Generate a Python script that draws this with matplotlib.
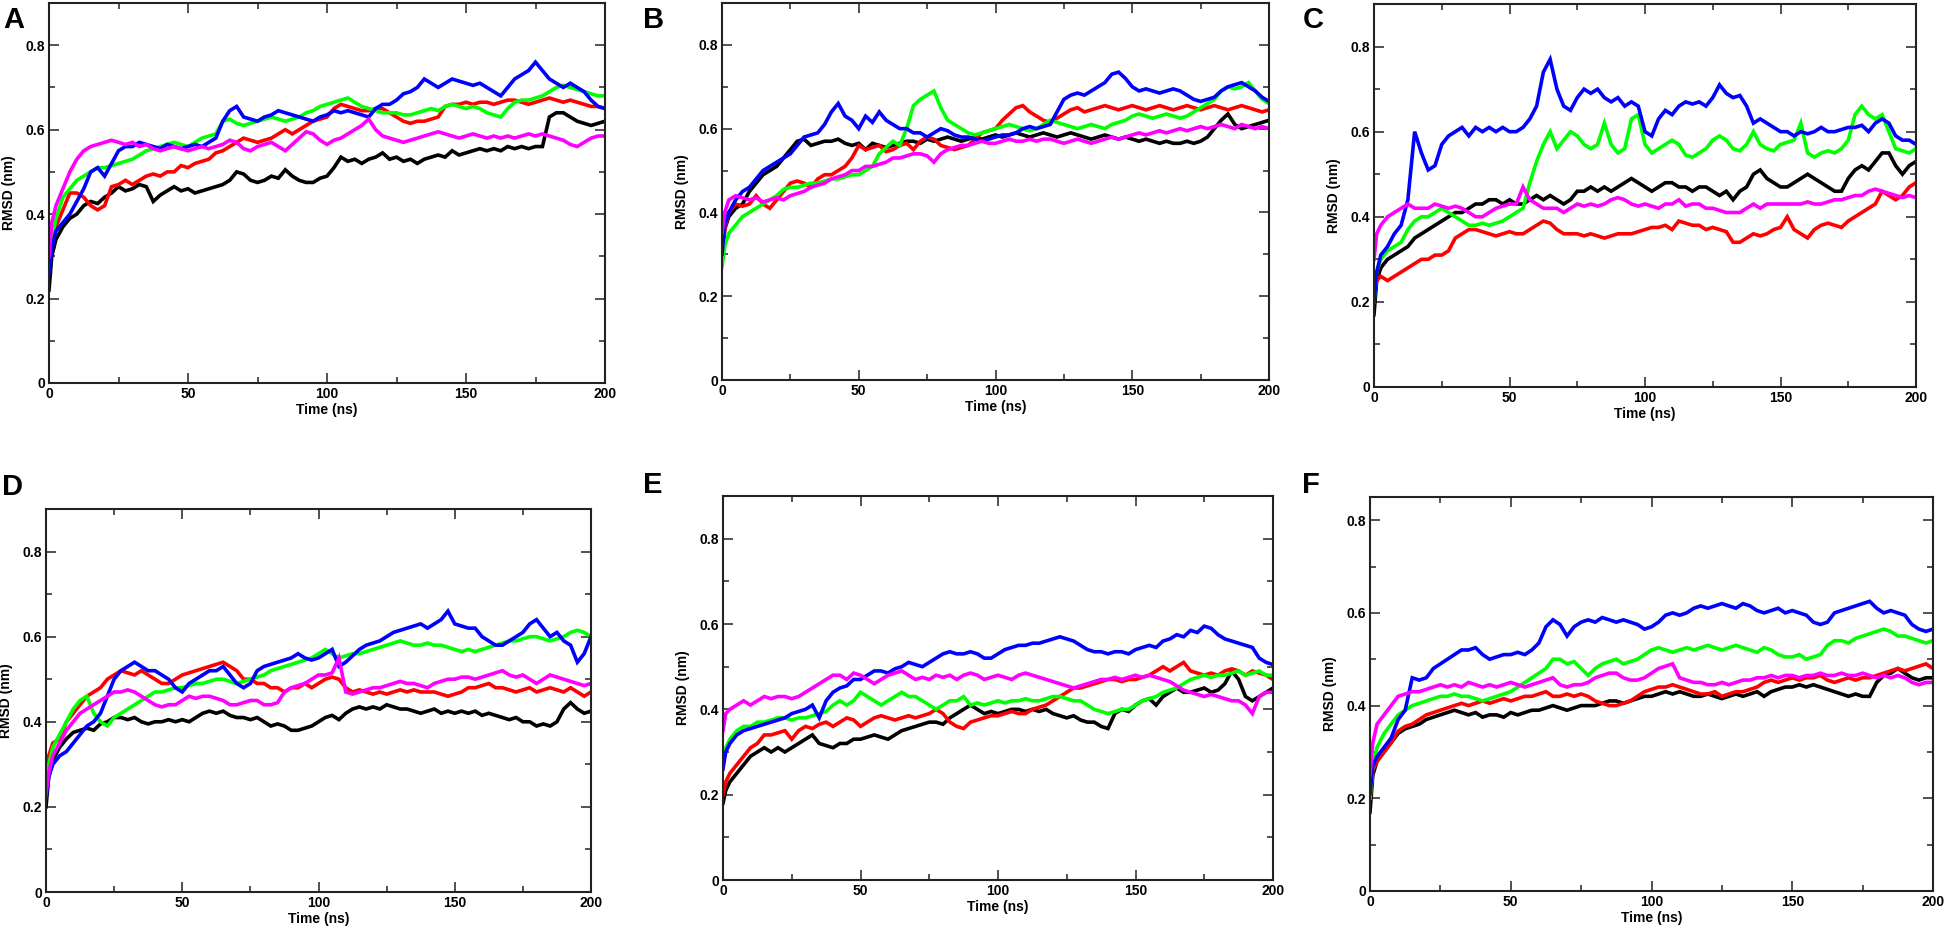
import numpy as np
import matplotlib
matplotlib.use("Agg")
import matplotlib.pyplot as plt
from matplotlib.ticker import MultipleLocator, FuncFormatter

plt.rcParams['font.family'] = ['Liberation Sans', 'DejaVu Sans']
plt.rcParams['font.weight'] = 'bold'

# time grid (ns)
time_ns = np.concatenate([[0.0, 1.0], np.arange(2.5, 200.01, 2.5)])

series_names = ["black", "red", "green", "blue", "magenta"]
series_colors = ["#000000", "#ff0000", "#00ff00", "#0000ff", "#ff00ff"]
panel_letters = ["A", "B", "C", "D", "E", "F"]

# ---------------- Panel A ----------------
A_black = [0.22, 0.30, 0.34, 0.37, 0.39, 0.40, 0.42, 0.43, 0.425, 0.44,
           0.45, 0.465, 0.455, 0.46, 0.47, 0.465, 0.43, 0.445,
           0.455, 0.465, 0.455, 0.46, 0.45, 0.455, 0.46, 0.465,
           0.47, 0.48, 0.50, 0.495, 0.48, 0.475, 0.48, 0.49,
           0.485, 0.505, 0.49, 0.48, 0.475, 0.475, 0.485, 0.49,
           0.51, 0.535, 0.525, 0.53, 0.52, 0.53, 0.535, 0.545,
           0.53, 0.535, 0.525, 0.53, 0.52, 0.53, 0.535, 0.54,
           0.535, 0.55, 0.54, 0.545, 0.55, 0.555, 0.55, 0.555,
           0.55, 0.56, 0.555, 0.56, 0.555, 0.56, 0.56, 0.63,
           0.64, 0.64, 0.63, 0.62, 0.615, 0.61, 0.615, 0.62]
A_red = [0.28, 0.33, 0.37, 0.41, 0.45, 0.45, 0.44, 0.42, 0.41, 0.42,
         0.465, 0.47, 0.48, 0.47, 0.48, 0.49, 0.495, 0.49,
         0.50, 0.50, 0.515, 0.51, 0.52, 0.525, 0.53, 0.545,
         0.55, 0.56, 0.57, 0.58, 0.575, 0.57, 0.575, 0.58,
         0.59, 0.60, 0.59, 0.60, 0.61, 0.62, 0.625, 0.63,
         0.65, 0.66, 0.655, 0.65, 0.645, 0.645, 0.65, 0.65,
         0.64, 0.63, 0.62, 0.615, 0.62, 0.62, 0.625, 0.63,
         0.655, 0.66, 0.66, 0.665, 0.66, 0.665, 0.665, 0.66,
         0.665, 0.67, 0.67, 0.665, 0.66, 0.665, 0.67, 0.675,
         0.67, 0.665, 0.67, 0.665, 0.66, 0.655, 0.655, 0.65]
A_green = [0.28, 0.34, 0.39, 0.44, 0.46, 0.48, 0.49, 0.50, 0.51, 0.51,
           0.515, 0.52, 0.525, 0.53, 0.54, 0.55, 0.555, 0.56,
           0.565, 0.57, 0.565, 0.56, 0.57, 0.58, 0.585, 0.59,
           0.62, 0.625, 0.615, 0.61, 0.615, 0.62, 0.625, 0.63,
           0.625, 0.62, 0.625, 0.63, 0.64, 0.645, 0.655, 0.66,
           0.665, 0.67, 0.675, 0.665, 0.655, 0.65, 0.645, 0.64,
           0.64, 0.64, 0.635, 0.635, 0.64, 0.645, 0.65, 0.645,
           0.655, 0.66, 0.655, 0.65, 0.655, 0.65, 0.64, 0.635,
           0.63, 0.65, 0.665, 0.67, 0.67, 0.675, 0.68, 0.69,
           0.70, 0.705, 0.70, 0.695, 0.69, 0.685, 0.68, 0.68]
A_blue = [0.26, 0.32, 0.36, 0.38, 0.40, 0.43, 0.46, 0.50, 0.51, 0.49,
          0.52, 0.55, 0.56, 0.56, 0.57, 0.565, 0.56, 0.555,
          0.565, 0.56, 0.555, 0.56, 0.565, 0.56, 0.57, 0.58,
          0.62, 0.645, 0.655, 0.63, 0.625, 0.62, 0.63, 0.635,
          0.645, 0.64, 0.635, 0.63, 0.625, 0.62, 0.63, 0.635,
          0.645, 0.64, 0.645, 0.64, 0.635, 0.63, 0.65, 0.66,
          0.66, 0.67, 0.685, 0.69, 0.70, 0.72, 0.71, 0.70,
          0.71, 0.72, 0.715, 0.71, 0.705, 0.71, 0.70, 0.69,
          0.68, 0.70, 0.72, 0.73, 0.74, 0.76, 0.74, 0.72,
          0.71, 0.70, 0.71, 0.70, 0.69, 0.67, 0.655, 0.65]
A_magenta = [0.30, 0.38, 0.42, 0.46, 0.50, 0.53, 0.55, 0.56, 0.565, 0.57,
             0.575, 0.57, 0.565, 0.57, 0.56, 0.565, 0.555, 0.55,
             0.555, 0.56, 0.555, 0.55, 0.555, 0.56, 0.555, 0.56,
             0.565, 0.575, 0.57, 0.555, 0.55, 0.56, 0.565, 0.57,
             0.56, 0.55, 0.565, 0.58, 0.595, 0.59, 0.575, 0.565,
             0.575, 0.58, 0.59, 0.60, 0.61, 0.625, 0.60, 0.585,
             0.58, 0.575, 0.57, 0.575, 0.58, 0.585, 0.59, 0.595,
             0.59, 0.585, 0.58, 0.585, 0.59, 0.585, 0.58, 0.585,
             0.58, 0.585, 0.58, 0.585, 0.59, 0.585, 0.59, 0.585,
             0.58, 0.575, 0.565, 0.56, 0.57, 0.58, 0.585, 0.585]

# ---------------- Panel B ----------------
B_black = [0.28, 0.36, 0.39, 0.41, 0.42, 0.45, 0.47, 0.49, 0.50, 0.51,
           0.53, 0.55, 0.57, 0.575, 0.56, 0.565, 0.57, 0.57,
           0.575, 0.565, 0.56, 0.565, 0.55, 0.565, 0.56, 0.555,
           0.56, 0.565, 0.57, 0.57, 0.565, 0.575, 0.57, 0.575,
           0.58, 0.575, 0.57, 0.575, 0.58, 0.575, 0.58, 0.585,
           0.58, 0.585, 0.59, 0.585, 0.58, 0.585, 0.59, 0.585,
           0.58, 0.585, 0.59, 0.585, 0.58, 0.575, 0.58, 0.585,
           0.58, 0.575, 0.58, 0.575, 0.57, 0.575, 0.57, 0.565,
           0.57, 0.565, 0.565, 0.57, 0.565, 0.57, 0.58, 0.60,
           0.62, 0.635, 0.61, 0.60, 0.605, 0.61, 0.615, 0.62]
B_red = [0.30, 0.36, 0.40, 0.42, 0.415, 0.42, 0.44, 0.42, 0.41, 0.43,
         0.45, 0.47, 0.475, 0.47, 0.46, 0.48, 0.49, 0.49,
         0.50, 0.51, 0.53, 0.56, 0.55, 0.555, 0.56, 0.545,
         0.55, 0.56, 0.565, 0.55, 0.57, 0.58, 0.575, 0.56,
         0.555, 0.55, 0.555, 0.56, 0.575, 0.59, 0.595, 0.60,
         0.62, 0.635, 0.65, 0.655, 0.64, 0.63, 0.62, 0.615,
         0.625, 0.635, 0.645, 0.65, 0.64, 0.645, 0.65, 0.655,
         0.65, 0.645, 0.65, 0.655, 0.65, 0.645, 0.65, 0.655,
         0.65, 0.645, 0.65, 0.655, 0.65, 0.645, 0.65, 0.655,
         0.65, 0.645, 0.65, 0.655, 0.65, 0.645, 0.64, 0.645]
B_green = [0.27, 0.32, 0.35, 0.37, 0.39, 0.40, 0.41, 0.42, 0.43, 0.44,
           0.455, 0.46, 0.46, 0.465, 0.47, 0.47, 0.475, 0.48,
           0.48, 0.485, 0.49, 0.49, 0.50, 0.51, 0.54, 0.555,
           0.57, 0.56, 0.60, 0.655, 0.67, 0.68, 0.69, 0.65,
           0.62, 0.61, 0.60, 0.59, 0.585, 0.59, 0.595, 0.60,
           0.605, 0.61, 0.605, 0.60, 0.595, 0.60, 0.61, 0.62,
           0.615, 0.61, 0.605, 0.60, 0.605, 0.61, 0.605, 0.60,
           0.61, 0.615, 0.62, 0.63, 0.635, 0.63, 0.625, 0.63,
           0.635, 0.63, 0.625, 0.63, 0.64, 0.65, 0.66, 0.67,
           0.69, 0.70, 0.695, 0.70, 0.71, 0.69, 0.67, 0.66]
B_blue = [0.30, 0.37, 0.40, 0.43, 0.45, 0.46, 0.48, 0.50, 0.51, 0.52,
          0.53, 0.54, 0.56, 0.58, 0.585, 0.59, 0.61, 0.64,
          0.66, 0.63, 0.62, 0.60, 0.63, 0.615, 0.64, 0.62,
          0.61, 0.60, 0.60, 0.59, 0.59, 0.58, 0.59, 0.60,
          0.595, 0.585, 0.58, 0.58, 0.575, 0.57, 0.575, 0.58,
          0.585, 0.585, 0.59, 0.60, 0.605, 0.60, 0.605, 0.61,
          0.64, 0.67, 0.68, 0.685, 0.68, 0.69, 0.70, 0.71,
          0.73, 0.735, 0.72, 0.70, 0.69, 0.695, 0.69, 0.685,
          0.69, 0.695, 0.69, 0.68, 0.67, 0.665, 0.67, 0.675,
          0.69, 0.70, 0.705, 0.71, 0.70, 0.69, 0.675, 0.665]
B_magenta = [0.35, 0.40, 0.43, 0.44, 0.435, 0.43, 0.435, 0.425, 0.43, 0.435,
             0.43, 0.44, 0.445, 0.45, 0.46, 0.465, 0.47, 0.48,
             0.485, 0.49, 0.50, 0.50, 0.51, 0.51, 0.515, 0.52,
             0.53, 0.53, 0.535, 0.54, 0.54, 0.535, 0.52, 0.54,
             0.55, 0.555, 0.56, 0.56, 0.565, 0.57, 0.565, 0.565,
             0.57, 0.575, 0.57, 0.57, 0.575, 0.57, 0.575, 0.575,
             0.57, 0.565, 0.57, 0.575, 0.57, 0.565, 0.57, 0.575,
             0.58, 0.575, 0.58, 0.585, 0.59, 0.585, 0.59, 0.595,
             0.59, 0.595, 0.60, 0.595, 0.60, 0.605, 0.60, 0.605,
             0.61, 0.605, 0.60, 0.61, 0.605, 0.60, 0.605, 0.60]

# ---------------- Panel C ----------------
C_black = [0.17, 0.25, 0.28, 0.30, 0.31, 0.32, 0.33, 0.35, 0.36, 0.37,
           0.38, 0.39, 0.40, 0.41, 0.41, 0.42, 0.43, 0.43,
           0.44, 0.44, 0.43, 0.44, 0.43, 0.43, 0.44, 0.45,
           0.44, 0.45, 0.44, 0.43, 0.44, 0.46, 0.46, 0.47,
           0.46, 0.47, 0.46, 0.47, 0.48, 0.49, 0.48, 0.47,
           0.46, 0.47, 0.48, 0.48, 0.47, 0.47, 0.46, 0.47,
           0.47, 0.46, 0.45, 0.46, 0.44, 0.46, 0.47, 0.50,
           0.51, 0.49, 0.48, 0.47, 0.47, 0.48, 0.49, 0.50,
           0.49, 0.48, 0.47, 0.46, 0.46, 0.49, 0.51, 0.52,
           0.51, 0.53, 0.55, 0.55, 0.52, 0.50, 0.52, 0.53]
C_red = [0.22, 0.25, 0.26, 0.25, 0.26, 0.27, 0.28, 0.29, 0.30, 0.30,
         0.31, 0.31, 0.32, 0.35, 0.36, 0.37, 0.37, 0.365,
         0.36, 0.355, 0.36, 0.365, 0.36, 0.36, 0.37, 0.38,
         0.39, 0.385, 0.37, 0.36, 0.36, 0.36, 0.355, 0.36,
         0.355, 0.35, 0.355, 0.36, 0.36, 0.36, 0.365, 0.37,
         0.375, 0.375, 0.38, 0.37, 0.39, 0.385, 0.38, 0.38,
         0.37, 0.375, 0.37, 0.365, 0.34, 0.34, 0.35, 0.36,
         0.355, 0.36, 0.37, 0.375, 0.40, 0.37, 0.36, 0.35,
         0.37, 0.38, 0.385, 0.38, 0.375, 0.39, 0.40, 0.41,
         0.42, 0.43, 0.46, 0.45, 0.44, 0.45, 0.47, 0.48]
C_green = [0.20, 0.27, 0.30, 0.32, 0.33, 0.34, 0.37, 0.39, 0.40, 0.40,
           0.41, 0.42, 0.41, 0.40, 0.39, 0.38, 0.38, 0.385,
           0.38, 0.385, 0.39, 0.40, 0.41, 0.42, 0.48, 0.53,
           0.57, 0.60, 0.56, 0.58, 0.60, 0.59, 0.57, 0.56,
           0.57, 0.62, 0.57, 0.55, 0.56, 0.63, 0.64, 0.57,
           0.55, 0.56, 0.57, 0.58, 0.57, 0.545, 0.54, 0.55,
           0.56, 0.58, 0.59, 0.58, 0.56, 0.555, 0.57, 0.60,
           0.57, 0.56, 0.555, 0.57, 0.575, 0.58, 0.62, 0.55,
           0.54, 0.55, 0.555, 0.55, 0.56, 0.58, 0.64, 0.66,
           0.64, 0.63, 0.64, 0.60, 0.56, 0.555, 0.55, 0.56]
C_blue = [0.20, 0.27, 0.31, 0.33, 0.36, 0.38, 0.44, 0.60, 0.55, 0.51,
          0.52, 0.57, 0.59, 0.60, 0.61, 0.59, 0.61, 0.60,
          0.61, 0.60, 0.61, 0.60, 0.60, 0.61, 0.63, 0.66,
          0.74, 0.77, 0.70, 0.66, 0.65, 0.68, 0.70, 0.69,
          0.70, 0.68, 0.67, 0.68, 0.66, 0.67, 0.66, 0.60,
          0.59, 0.63, 0.65, 0.64, 0.66, 0.67, 0.665, 0.67,
          0.66, 0.68, 0.71, 0.69, 0.68, 0.685, 0.66, 0.62,
          0.63, 0.62, 0.61, 0.60, 0.60, 0.59, 0.60, 0.595,
          0.60, 0.61, 0.60, 0.60, 0.605, 0.61, 0.61, 0.615,
          0.60, 0.62, 0.63, 0.62, 0.59, 0.58, 0.58, 0.57]
C_magenta = [0.30, 0.36, 0.38, 0.40, 0.41, 0.42, 0.43, 0.42, 0.42, 0.42,
             0.43, 0.425, 0.42, 0.425, 0.42, 0.41, 0.40, 0.40,
             0.41, 0.42, 0.425, 0.43, 0.43, 0.47, 0.44, 0.43,
             0.42, 0.42, 0.42, 0.41, 0.42, 0.43, 0.425, 0.43,
             0.425, 0.43, 0.44, 0.445, 0.44, 0.43, 0.425, 0.43,
             0.425, 0.42, 0.43, 0.43, 0.44, 0.425, 0.43, 0.43,
             0.42, 0.42, 0.415, 0.41, 0.41, 0.41, 0.42, 0.43,
             0.42, 0.43, 0.43, 0.43, 0.43, 0.43, 0.43, 0.435,
             0.43, 0.43, 0.435, 0.44, 0.44, 0.445, 0.45, 0.45,
             0.46, 0.465, 0.46, 0.455, 0.45, 0.445, 0.45, 0.445]

# ---------------- Panel D ----------------
D_black = [0.20, 0.27, 0.31, 0.34, 0.36, 0.375, 0.38, 0.385, 0.38, 0.395,
           0.40, 0.41, 0.41, 0.405, 0.41, 0.40, 0.395, 0.40,
           0.40, 0.405, 0.40, 0.405, 0.40, 0.41, 0.42, 0.425,
           0.42, 0.425, 0.415, 0.41, 0.41, 0.405, 0.41, 0.40,
           0.39, 0.395, 0.39, 0.38, 0.38, 0.385, 0.39, 0.40,
           0.41, 0.415, 0.405, 0.42, 0.43, 0.435, 0.43, 0.435,
           0.43, 0.44, 0.435, 0.43, 0.43, 0.425, 0.42, 0.425,
           0.43, 0.42, 0.425, 0.42, 0.425, 0.42, 0.425, 0.415,
           0.42, 0.415, 0.41, 0.405, 0.41, 0.40, 0.40, 0.39,
           0.395, 0.39, 0.40, 0.43, 0.445, 0.43, 0.42, 0.425]
D_red = [0.25, 0.32, 0.35, 0.36, 0.40, 0.42, 0.44, 0.46, 0.47, 0.48,
         0.50, 0.51, 0.52, 0.515, 0.51, 0.52, 0.51, 0.50,
         0.49, 0.49, 0.50, 0.51, 0.515, 0.52, 0.525, 0.53,
         0.535, 0.54, 0.53, 0.52, 0.50, 0.50, 0.49, 0.49,
         0.48, 0.48, 0.47, 0.48, 0.48, 0.49, 0.48, 0.49,
         0.50, 0.505, 0.50, 0.48, 0.47, 0.475, 0.47, 0.465,
         0.47, 0.465, 0.47, 0.475, 0.47, 0.475, 0.47, 0.47,
         0.47, 0.465, 0.46, 0.465, 0.47, 0.48, 0.48, 0.485,
         0.49, 0.48, 0.48, 0.475, 0.47, 0.475, 0.48, 0.47,
         0.475, 0.48, 0.475, 0.47, 0.48, 0.47, 0.46, 0.47]
D_green = [0.25, 0.30, 0.34, 0.37, 0.40, 0.43, 0.45, 0.46, 0.42, 0.40,
           0.39, 0.41, 0.42, 0.43, 0.44, 0.45, 0.46, 0.47,
           0.47, 0.475, 0.48, 0.48, 0.485, 0.49, 0.49, 0.495,
           0.50, 0.50, 0.495, 0.49, 0.495, 0.50, 0.505, 0.51,
           0.52, 0.525, 0.53, 0.535, 0.54, 0.545, 0.55, 0.56,
           0.57, 0.56, 0.55, 0.555, 0.56, 0.56, 0.565, 0.57,
           0.575, 0.58, 0.585, 0.59, 0.585, 0.58, 0.58, 0.585,
           0.58, 0.58, 0.575, 0.57, 0.565, 0.57, 0.565, 0.57,
           0.575, 0.58, 0.585, 0.59, 0.59, 0.595, 0.60, 0.60,
           0.595, 0.59, 0.595, 0.60, 0.61, 0.615, 0.61, 0.60]
D_blue = [0.22, 0.27, 0.30, 0.32, 0.33, 0.35, 0.37, 0.39, 0.40, 0.42,
          0.46, 0.50, 0.52, 0.53, 0.54, 0.53, 0.52, 0.52,
          0.51, 0.50, 0.48, 0.47, 0.49, 0.50, 0.51, 0.52,
          0.52, 0.53, 0.51, 0.49, 0.48, 0.49, 0.52, 0.53,
          0.535, 0.54, 0.545, 0.55, 0.56, 0.55, 0.545, 0.55,
          0.56, 0.57, 0.53, 0.54, 0.555, 0.57, 0.58, 0.585,
          0.59, 0.60, 0.61, 0.615, 0.62, 0.625, 0.63, 0.62,
          0.63, 0.64, 0.66, 0.63, 0.625, 0.62, 0.62, 0.60,
          0.59, 0.58, 0.58, 0.59, 0.60, 0.61, 0.63, 0.64,
          0.62, 0.60, 0.61, 0.59, 0.58, 0.54, 0.56, 0.60]
D_magenta = [0.23, 0.28, 0.32, 0.35, 0.38, 0.40, 0.42, 0.43, 0.44, 0.45,
             0.46, 0.47, 0.47, 0.475, 0.47, 0.46, 0.45, 0.44,
             0.435, 0.44, 0.44, 0.45, 0.46, 0.455, 0.46, 0.46,
             0.455, 0.45, 0.44, 0.44, 0.445, 0.45, 0.45, 0.44,
             0.44, 0.445, 0.47, 0.48, 0.485, 0.49, 0.50, 0.51,
             0.51, 0.515, 0.55, 0.47, 0.465, 0.47, 0.475, 0.48,
             0.48, 0.485, 0.49, 0.495, 0.49, 0.49, 0.485, 0.48,
             0.49, 0.495, 0.50, 0.50, 0.505, 0.505, 0.50, 0.505,
             0.51, 0.515, 0.52, 0.51, 0.505, 0.51, 0.50, 0.49,
             0.50, 0.51, 0.505, 0.50, 0.495, 0.49, 0.485, 0.49]

# ---------------- Panel E ----------------
E_black = [0.18, 0.21, 0.23, 0.25, 0.27, 0.29, 0.30, 0.31, 0.30, 0.31,
           0.30, 0.31, 0.32, 0.33, 0.34, 0.32, 0.315, 0.31,
           0.32, 0.32, 0.33, 0.33, 0.335, 0.34, 0.335, 0.33,
           0.34, 0.35, 0.355, 0.36, 0.365, 0.37, 0.37, 0.365,
           0.38, 0.39, 0.40, 0.41, 0.40, 0.39, 0.395, 0.39,
           0.395, 0.40, 0.40, 0.395, 0.40, 0.395, 0.40, 0.39,
           0.385, 0.38, 0.385, 0.375, 0.37, 0.37, 0.36, 0.355,
           0.39, 0.40, 0.395, 0.41, 0.42, 0.425, 0.41, 0.43,
           0.44, 0.45, 0.44, 0.44, 0.445, 0.45, 0.44, 0.445,
           0.46, 0.49, 0.47, 0.43, 0.42, 0.43, 0.44, 0.45]
E_red = [0.20, 0.23, 0.25, 0.27, 0.29, 0.31, 0.32, 0.34, 0.34, 0.345,
         0.35, 0.33, 0.35, 0.36, 0.355, 0.365, 0.37, 0.36,
         0.37, 0.38, 0.375, 0.36, 0.37, 0.38, 0.385, 0.38,
         0.375, 0.38, 0.385, 0.38, 0.385, 0.39, 0.40, 0.39,
         0.37, 0.36, 0.355, 0.37, 0.375, 0.38, 0.385, 0.385,
         0.39, 0.395, 0.39, 0.39, 0.40, 0.405, 0.41, 0.42,
         0.43, 0.44, 0.45, 0.45, 0.455, 0.46, 0.465, 0.47,
         0.47, 0.465, 0.47, 0.47, 0.475, 0.48, 0.49, 0.50,
         0.49, 0.50, 0.51, 0.49, 0.485, 0.48, 0.485, 0.48,
         0.49, 0.495, 0.49, 0.48, 0.49, 0.485, 0.48, 0.47]
E_green = [0.28, 0.31, 0.33, 0.35, 0.36, 0.36, 0.37, 0.37, 0.375, 0.38,
           0.38, 0.375, 0.38, 0.38, 0.385, 0.39, 0.395, 0.41,
           0.42, 0.41, 0.42, 0.44, 0.43, 0.42, 0.41, 0.42,
           0.43, 0.44, 0.43, 0.43, 0.42, 0.41, 0.40, 0.41,
           0.42, 0.42, 0.43, 0.41, 0.415, 0.41, 0.415, 0.42,
           0.415, 0.42, 0.42, 0.425, 0.42, 0.42, 0.425, 0.43,
           0.43, 0.425, 0.42, 0.42, 0.41, 0.40, 0.395, 0.39,
           0.395, 0.40, 0.40, 0.41, 0.42, 0.425, 0.43, 0.44,
           0.445, 0.45, 0.46, 0.47, 0.475, 0.48, 0.475, 0.48,
           0.48, 0.485, 0.49, 0.48, 0.485, 0.49, 0.48, 0.48]
E_blue = [0.26, 0.30, 0.32, 0.34, 0.35, 0.355, 0.36, 0.365, 0.37, 0.375,
          0.38, 0.39, 0.395, 0.40, 0.41, 0.38, 0.42, 0.44,
          0.45, 0.455, 0.47, 0.47, 0.48, 0.49, 0.49, 0.485,
          0.495, 0.50, 0.51, 0.505, 0.50, 0.51, 0.52, 0.53,
          0.535, 0.53, 0.53, 0.535, 0.53, 0.52, 0.52, 0.53,
          0.54, 0.545, 0.55, 0.55, 0.555, 0.555, 0.56, 0.565,
          0.57, 0.565, 0.56, 0.55, 0.54, 0.535, 0.535, 0.53,
          0.535, 0.535, 0.53, 0.54, 0.545, 0.55, 0.545, 0.56,
          0.565, 0.575, 0.57, 0.585, 0.58, 0.595, 0.59, 0.575,
          0.565, 0.56, 0.555, 0.55, 0.545, 0.52, 0.51, 0.505]
E_magenta = [0.35, 0.39, 0.40, 0.41, 0.42, 0.41, 0.42, 0.43, 0.425, 0.43,
             0.43, 0.425, 0.43, 0.44, 0.45, 0.46, 0.47, 0.48,
             0.48, 0.47, 0.485, 0.48, 0.47, 0.46, 0.47, 0.48,
             0.485, 0.49, 0.48, 0.47, 0.475, 0.47, 0.48, 0.475,
             0.48, 0.47, 0.48, 0.485, 0.48, 0.47, 0.475, 0.48,
             0.475, 0.47, 0.48, 0.485, 0.48, 0.475, 0.47, 0.465,
             0.46, 0.455, 0.45, 0.455, 0.46, 0.465, 0.47, 0.47,
             0.475, 0.47, 0.475, 0.48, 0.475, 0.48, 0.475, 0.47,
             0.465, 0.455, 0.445, 0.44, 0.435, 0.43, 0.435, 0.43,
             0.425, 0.42, 0.42, 0.41, 0.39, 0.43, 0.44, 0.44]

# ---------------- Panel F ----------------
F_black = [0.17, 0.25, 0.28, 0.30, 0.32, 0.34, 0.35, 0.355, 0.36, 0.37,
           0.375, 0.38, 0.385, 0.39, 0.385, 0.38, 0.385, 0.375,
           0.38, 0.38, 0.375, 0.385, 0.38, 0.385, 0.39, 0.39,
           0.395, 0.40, 0.395, 0.39, 0.395, 0.40, 0.40, 0.40,
           0.405, 0.41, 0.41, 0.405, 0.41, 0.415, 0.42, 0.42,
           0.425, 0.43, 0.425, 0.43, 0.425, 0.42, 0.42, 0.425,
           0.42, 0.415, 0.42, 0.425, 0.42, 0.425, 0.43, 0.42,
           0.43, 0.435, 0.44, 0.44, 0.445, 0.44, 0.445, 0.44,
           0.435, 0.43, 0.425, 0.42, 0.425, 0.42, 0.42, 0.45,
           0.465, 0.47, 0.48, 0.47, 0.46, 0.455, 0.46, 0.46]
F_red = [0.20, 0.26, 0.28, 0.30, 0.32, 0.345, 0.355, 0.36, 0.37, 0.38,
         0.385, 0.39, 0.395, 0.40, 0.405, 0.40, 0.405, 0.41,
         0.405, 0.41, 0.415, 0.41, 0.415, 0.42, 0.42, 0.425,
         0.43, 0.42, 0.42, 0.425, 0.42, 0.425, 0.42, 0.41,
         0.405, 0.40, 0.40, 0.405, 0.41, 0.42, 0.43, 0.435,
         0.44, 0.44, 0.445, 0.44, 0.435, 0.43, 0.425, 0.425,
         0.43, 0.42, 0.425, 0.43, 0.43, 0.435, 0.44, 0.45,
         0.455, 0.45, 0.455, 0.46, 0.455, 0.46, 0.46, 0.465,
         0.455, 0.45, 0.455, 0.46, 0.455, 0.46, 0.46, 0.465,
         0.47, 0.475, 0.48, 0.475, 0.48, 0.485, 0.49, 0.48]
F_green = [0.20, 0.27, 0.31, 0.34, 0.36, 0.38, 0.39, 0.40, 0.405, 0.41,
           0.415, 0.42, 0.42, 0.425, 0.42, 0.42, 0.415, 0.41,
           0.415, 0.42, 0.425, 0.43, 0.44, 0.45, 0.46, 0.47,
           0.48, 0.50, 0.50, 0.49, 0.495, 0.48, 0.465, 0.48,
           0.49, 0.495, 0.50, 0.49, 0.495, 0.50, 0.51, 0.52,
           0.525, 0.52, 0.515, 0.52, 0.525, 0.52, 0.525, 0.53,
           0.525, 0.52, 0.525, 0.53, 0.525, 0.52, 0.515, 0.525,
           0.52, 0.51, 0.505, 0.505, 0.51, 0.50, 0.505, 0.51,
           0.53, 0.54, 0.54, 0.535, 0.545, 0.55, 0.555, 0.56,
           0.565, 0.56, 0.55, 0.55, 0.545, 0.54, 0.535, 0.54]
F_blue = [0.21, 0.27, 0.29, 0.31, 0.33, 0.37, 0.39, 0.46, 0.455, 0.46,
          0.48, 0.49, 0.50, 0.51, 0.52, 0.52, 0.525, 0.51,
          0.50, 0.505, 0.51, 0.51, 0.515, 0.51, 0.52, 0.535,
          0.57, 0.585, 0.575, 0.55, 0.57, 0.58, 0.585, 0.58,
          0.59, 0.585, 0.58, 0.585, 0.58, 0.575, 0.565, 0.57,
          0.58, 0.595, 0.60, 0.595, 0.60, 0.61, 0.615, 0.61,
          0.615, 0.62, 0.615, 0.61, 0.62, 0.615, 0.605, 0.60,
          0.605, 0.61, 0.60, 0.605, 0.60, 0.595, 0.58, 0.575,
          0.58, 0.60, 0.605, 0.61, 0.615, 0.62, 0.625, 0.61,
          0.60, 0.605, 0.60, 0.595, 0.575, 0.565, 0.56, 0.565]
F_magenta = [0.25, 0.32, 0.36, 0.38, 0.40, 0.42, 0.425, 0.43, 0.43, 0.435,
             0.44, 0.445, 0.44, 0.445, 0.44, 0.45, 0.445, 0.44,
             0.445, 0.44, 0.445, 0.45, 0.445, 0.44, 0.445, 0.45,
             0.455, 0.46, 0.445, 0.44, 0.445, 0.445, 0.45, 0.46,
             0.465, 0.47, 0.47, 0.46, 0.455, 0.455, 0.46, 0.47,
             0.48, 0.485, 0.49, 0.46, 0.455, 0.45, 0.45, 0.445,
             0.445, 0.45, 0.445, 0.45, 0.455, 0.455, 0.46, 0.46,
             0.465, 0.46, 0.465, 0.465, 0.46, 0.465, 0.465, 0.47,
             0.465, 0.465, 0.47, 0.465, 0.465, 0.47, 0.465, 0.46,
             0.465, 0.46, 0.465, 0.46, 0.45, 0.445, 0.45, 0.45]

panel_series = {
    "A": [A_black, A_red, A_green, A_blue, A_magenta],
    "B": [B_black, B_red, B_green, B_blue, B_magenta],
    "C": [C_black, C_red, C_green, C_blue, C_magenta],
    "D": [D_black, D_red, D_green, D_blue, D_magenta],
    "E": [E_black, E_red, E_green, E_blue, E_magenta],
    "F": [F_black, F_red, F_green, F_blue, F_magenta],
}
panel_ymax = {"A": 0.9, "B": 0.9, "C": 0.9, "D": 0.9, "E": 0.9, "F": 0.85}

for letter, lst in panel_series.items():
    for name, s in zip(series_names, lst):
        assert len(s) == len(time_ns), f"{letter} {name}: {len(s)} != {len(time_ns)}"

# ---------------- layout (pixels) ----------------
W, H = 1950, 932
# left, right, top, bottom of each axes box in pixels
boxes = {
    "A": (49, 605, 3, 383),
    "B": (722, 1269, 3, 380),
    "C": (1374, 1916, 4, 387),
    "D": (46, 591, 509, 892),
    "E": (723, 1273, 496, 880),
    "F": (1370, 1933, 497, 891),
}
letter_pos = {
    "A": (3, 28), "B": (643, 28), "C": (1303, 28),
    "D": (2, 495), "E": (643, 493), "F": (1302, 493),
}

fig = plt.figure(figsize=(W / 100, H / 100), dpi=100)


def yfmt(v, pos):
    if abs(v) < 1e-9:
        return "0"
    return f"{v:.1f}"


for letter in panel_letters:
    l, r, t, b = boxes[letter]
    ax = fig.add_axes([l / W, 1 - b / H, (r - l) / W, (b - t) / H])
    for s, c in zip(panel_series[letter], series_colors):
        ax.plot(time_ns, s, color=c, lw=2.6, solid_joinstyle='miter')
    ax.set_xlim(0, 200)
    ax.set_ylim(0, panel_ymax[letter])
    ax.xaxis.set_major_locator(MultipleLocator(50))
    ax.xaxis.set_minor_locator(MultipleLocator(25))
    ax.yaxis.set_major_locator(MultipleLocator(0.2))
    ax.yaxis.set_minor_locator(MultipleLocator(0.1))
    ax.yaxis.set_major_formatter(FuncFormatter(yfmt))
    ax.xaxis.set_major_formatter(FuncFormatter(lambda v, p: f"{int(round(v))}"))
    ax.tick_params(which='both', direction='in', top=True, right=True,
                   width=1.1, colors='#222222', labelcolor='black')
    ax.tick_params(which='major', length=7, labelsize=10, pad=3)
    ax.tick_params(which='minor', length=4)
    for lab in ax.get_xticklabels() + ax.get_yticklabels():
        lab.set_fontweight('bold')
    for sp in ax.spines.values():
        sp.set_linewidth(1.5)
        sp.set_color('#222222')
    ax.set_xlabel("Time (ns)", fontsize=10, fontweight='bold', labelpad=1)
    ax.set_ylabel("RMSD (nm)", fontsize=10, fontweight='bold')
    ax.yaxis.set_label_coords(-33 / (r - l), 0.5)
    lx, ly = letter_pos[letter]
    fig.text(lx / W, 1 - ly / H, letter, fontsize=21, fontweight='bold',
             ha='left', va='baseline')

fig.savefig("out.png", dpi=100)
